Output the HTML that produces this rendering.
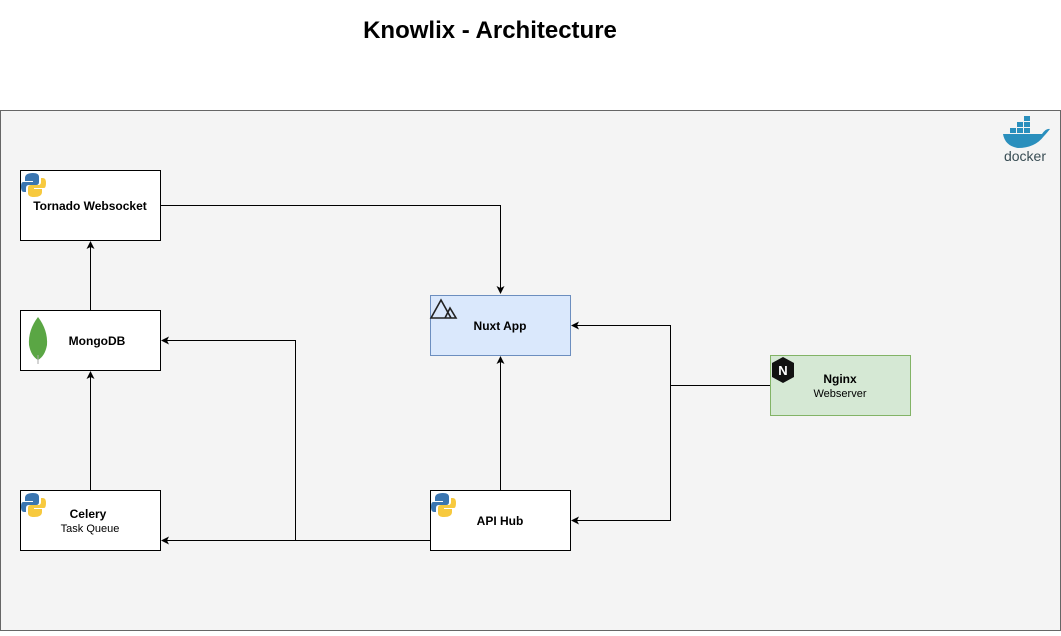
<!DOCTYPE html>
<html><head><meta charset="utf-8"><style>
body{margin:0;background:#fff;}
svg text{font-family:"Liberation Sans",Arial,sans-serif;}
</style></head><body>
<svg width="1061" height="631" viewBox="0 0 1061 631" xmlns="http://www.w3.org/2000/svg">
<defs><marker id="a" markerWidth="10" markerHeight="10" refX="8" refY="5" orient="auto" markerUnits="userSpaceOnUse"><path d="M1,1 L9,5 L1,9 L3,5 Z" fill="#000"/></marker></defs>
<text x="490" y="38" text-anchor="middle" font-size="24" font-weight="bold">Knowlix - Architecture</text>
<rect x="0.5" y="110.5" width="1060" height="520" fill="#f4f4f4" stroke="#666"/>
<!-- docker -->
<g>
<rect x="1010" y="128" width="6" height="5" fill="#2a8fbd"/><rect x="1017" y="128" width="6" height="5" fill="#2a8fbd"/><rect x="1024" y="128" width="6" height="5" fill="#2a8fbd"/>
<rect x="1017" y="122" width="6" height="5" fill="#2a8fbd"/><rect x="1024" y="122" width="6" height="5" fill="#2a8fbd"/><rect x="1024" y="116" width="6" height="5" fill="#2a8fbd"/>
<path d="M1003,134 L1042,134 Q1046,128 1050,129 Q1046,134 1044,136 Q1035,148 1018,148 Q1005,146 1003,134 Z" fill="#2a8fbd"/>
<text x="1025" y="161" text-anchor="middle" font-size="14" fill="#394d54">docker</text>
</g>
<!-- edges -->
<g stroke="#000" stroke-width="1" fill="none">
<path d="M160,205.5 H500.5 V293" marker-end="url(#a)"/>
<path d="M90.5,310 V242" marker-end="url(#a)"/>
<path d="M90.5,490 V372" marker-end="url(#a)"/>
<path d="M500.5,490 V357" marker-end="url(#a)"/>
<path d="M430,540.5 H162" marker-end="url(#a)"/>
<path d="M295.5,540.5 V340.5 H162" marker-end="url(#a)"/>
<path d="M770,385.5 H670.5 V325.5 H572" marker-end="url(#a)"/>
<path d="M670.5,385.5 V520.5 H572" marker-end="url(#a)"/>
</g>
<!-- boxes -->
<g stroke="#000" fill="#fff">
<rect x="20.5" y="170.5" width="140" height="70"/>
<rect x="20.5" y="310.5" width="140" height="60"/>
<rect x="20.5" y="490.5" width="140" height="60"/>
<rect x="430.5" y="490.5" width="140" height="60"/>
<rect x="430.5" y="295.5" width="140" height="60" fill="#dae8fc" stroke="#6c8ebf"/>
<rect x="770.5" y="355.5" width="140" height="60" fill="#d5e8d4" stroke="#82b366"/>
</g>
<!-- python icons -->
<g id="py">
<path d="M33,173 Q25,173 25,178 L25,181 L33,181 L33,182 L23,182 Q21,182 21,187 Q21,192 24,192 L26,192 L26,188 Q26,185 29,185 L36,185 Q39,185 39,182 L39,177 Q39,173 33,173 Z" fill="#3a75b0"/>
<path d="M34,197 Q42,197 42,192 L42,189 L34,189 L34,188 L44,188 Q46,188 46,183 Q46,178 43,178 L41,178 L41,182 Q41,185 38,185 L31,185 Q28,185 28,188 L28,193 Q28,197 34,197 Z" fill="#f7c93e"/>
</g>
<use href="#py" x="0" y="320"/>
<use href="#py" x="410" y="320"/>
<!-- mongo leaf -->
<path d="M38,317 Q28,330 29,345 Q31,356 38,360 Q45,356 47,345 Q48,330 38,317 Z" fill="#5aa644"/>
<line x1="38" y1="355" x2="38" y2="364" stroke="#aaa"/>
<!-- nuxt -->
<path d="M431,318 L441,300 L451,318 Z M445,318 L450,308 L456,318 Z" fill="none" stroke="#222" stroke-width="1.6"/>
<!-- nginx -->
<polygon points="783,357 794,363 794,377 783,383 772,377 772,363" fill="#111"/>
<text x="783" y="375" text-anchor="middle" font-size="13" font-weight="bold" fill="#fff">N</text>
<!-- labels -->
<g font-size="12" text-anchor="middle">
<text x="90" y="210" font-weight="bold">Tornado Websocket</text>
<text x="97" y="345" font-weight="bold">MongoDB</text>
<text x="88" y="518" font-weight="bold">Celery</text>
<text x="90" y="532" font-size="11">Task Queue</text>
<text x="500" y="525" font-weight="bold">API Hub</text>
<text x="500" y="330" font-weight="bold">Nuxt App</text>
<text x="840" y="383" font-weight="bold">Nginx</text>
<text x="840" y="397" font-size="11">Webserver</text>
</g>
</svg>
</body></html>
